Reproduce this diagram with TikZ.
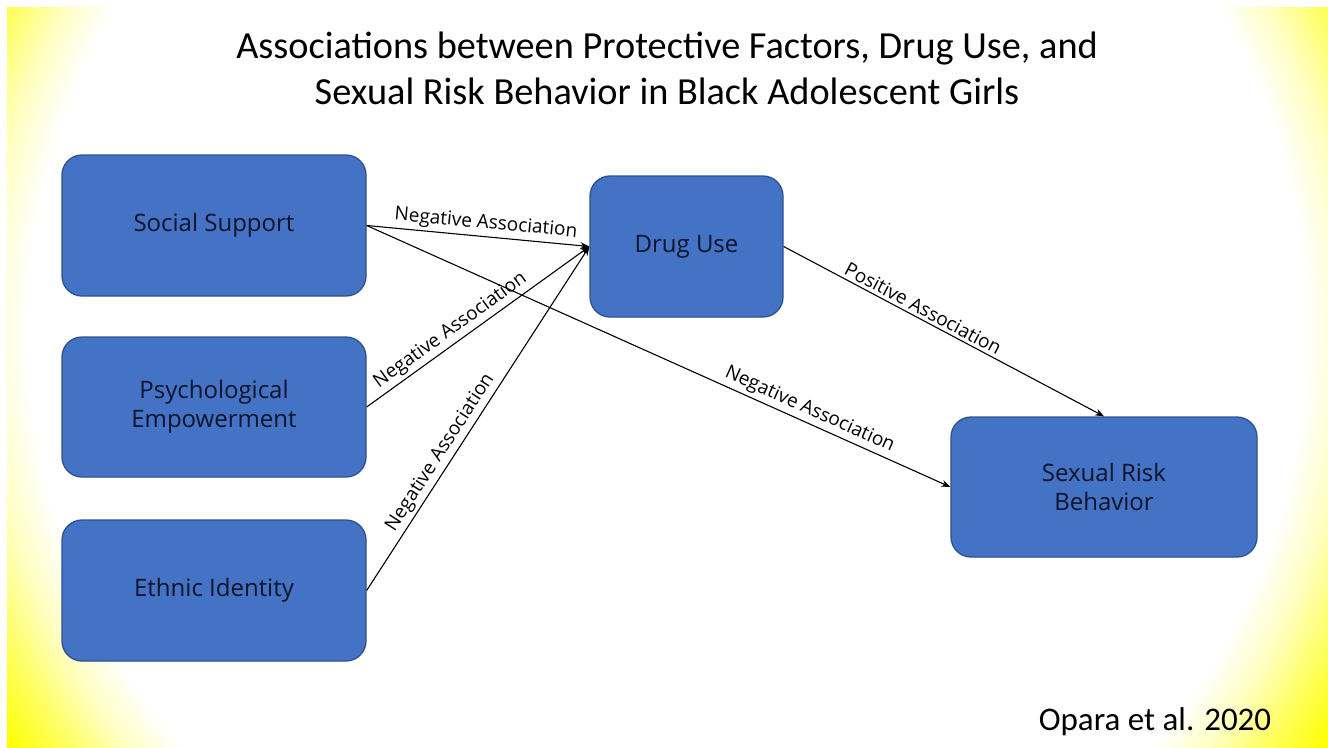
\documentclass[tikz,border=0pt]{standalone}
\usepackage{fontspec}
\setmainfont{Carlito}
\newfontfamily\boxfont{Open Sans}
\usetikzlibrary{arrows.meta}
\definecolor{boxfill}{HTML}{4472C4}
\definecolor{boxline}{HTML}{2F528F}
\definecolor{boxtext}{RGB}{14,20,42}
\pgfdeclareradialshading{bgrad}{\pgfpoint{0bp}{0bp}}{color(0bp)=(white); color(21.3bp)=(white); color(22.8bp)=(yellow!25!white); color(24.4bp)=(yellow!65!white); color(26bp)=(yellow); color(50bp)=(yellow)}
\begin{document}
\begin{tikzpicture}[x=1pt,y=-1pt,
  box/.style={draw=boxline, line width=1.3pt, fill=boxfill, rounded corners=20pt,
    align=center, text=boxtext, inner sep=0pt,
    font=\boxfont\fontsize{24}{29}\selectfont},
  conn/.style={-{Stealth[length=9pt,width=7pt]}, line width=1.1pt, draw=black},
  lab/.style={sloped, above, inner sep=3pt, text=black,
    font=\boxfont\fontsize{19}{22}\selectfont},
  titlefont/.style={font=\fontsize{38.3}{47}\selectfont, text=black}]
\useasboundingbox (0,0) rectangle (1328,747);
\fill[white] (0,0) rectangle (1328,747);
\begin{scope}
  \clip (7,7) rectangle (1328,747);
  \fill[yellow] (7,7) rectangle (1328,747);
  \shade[shading=bgrad] (-83,-420) rectangle (1417,1080);
\end{scope}

\node[titlefont, anchor=base] (t1) at (667,58) {Associations between Protective Factors, Drug Use, and};
\node[titlefont, anchor=base] (t2) at (667,104) {Sexual Risk Behavior in Black Adolescent Girls};

\node[box, minimum width=304pt, minimum height=141pt] (ss) at (214,225.5) {Social Support};
\node[box, minimum width=304pt, minimum height=140pt] (pe) at (214,407) {Psychological\\Empowerment};
\node[box, minimum width=304pt, minimum height=141pt] (ei) at (214,590.5) {Ethnic Identity};
\node[box, minimum width=193pt, minimum height=141pt] (du) at (686.5,246.5) {Drug Use};
\node[box, minimum width=306pt, minimum height=140pt] (srb) at (1104,487) {Sexual Risk\\Behavior};

\draw[conn] (ss.east) -- node[lab, pos=0.53] {Negative Association} (du.west);
\draw[conn] (pe.east) -- node[lab, pos=0.41] {Negative Association} (du.west);
\draw[conn] (ei.east) -- node[lab, pos=0.38] {Negative Association} (du.west);
\draw[conn] (ss.east) -- node[lab, pos=0.75] {Negative Association} (srb.west);
\draw[conn] (du.east) -- node[lab, pos=0.42] {Positive Association} (srb.north);

\node[font=\fontsize{33}{40}\selectfont, anchor=base] (cite) at (1155,730) {Opara et al. 2020};
\end{tikzpicture}
\end{document}
